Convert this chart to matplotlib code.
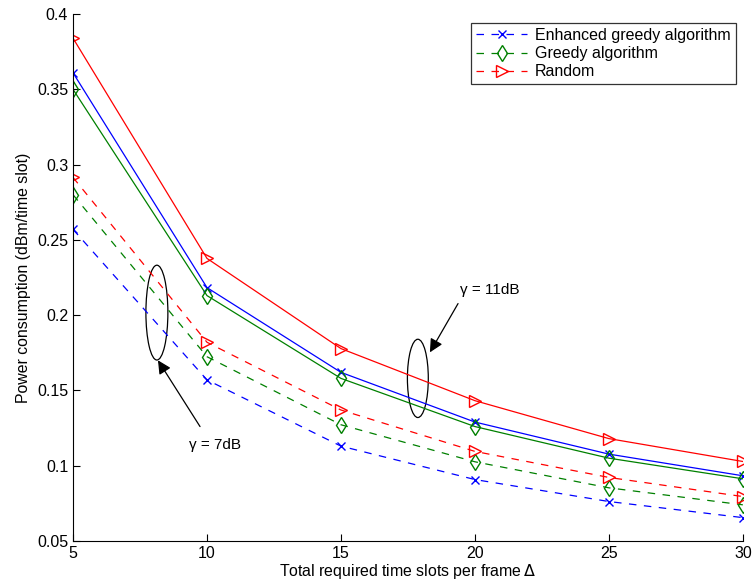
import matplotlib
matplotlib.use('Agg')
import matplotlib.pyplot as plt
from matplotlib.patches import Ellipse

plt.rcParams['font.family'] = ['Liberation Sans', 'DejaVu Sans']

# данные
slots = [5, 10, 15, 20, 25, 30]

enh_11 = [0.361, 0.2183, 0.162, 0.129, 0.1077, 0.0933]
greedy_11 = [0.350, 0.213, 0.158, 0.126, 0.105, 0.0913]
random_11 = [0.384, 0.2377, 0.1778, 0.1432, 0.118, 0.1028]

enh_7 = [0.257, 0.157, 0.113, 0.0908, 0.0762, 0.0655]
greedy_7 = [0.280, 0.1724, 0.1272, 0.1026, 0.0853, 0.0740]
random_7 = [0.2915, 0.182, 0.137, 0.1095, 0.0922, 0.0795]

labels = ['Enhanced greedy algorithm', 'Greedy algorithm', 'Random']
colors = ['#0000ff', '#008000', '#ff0000']
markers = ['x', 'd', '>']
msizes = [6, 8, 9]

fig = plt.figure(figsize=(7.56, 5.88), dpi=100)
ax = fig.add_axes([0.0966, 0.080, 0.886, 0.896])

# γ = 7dB, штрих
for y, c, m, ms, lab in zip([enh_7, greedy_7, random_7], colors, markers, msizes, labels):
    ax.plot(slots, y, linestyle=(0, (6, 6)), color=c, marker=m, markersize=ms,
            markerfacecolor='none', markeredgecolor=c, linewidth=0.9, label=lab)

# γ = 11dB, сплошные
for y, c, m, ms in zip([enh_11, greedy_11, random_11], colors, markers, msizes):
    ax.plot(slots, y, linestyle='-', color=c, marker=m, markersize=ms,
            markerfacecolor='none', markeredgecolor=c, linewidth=0.9)

ax.set_xlim(5, 30)
ax.set_ylim(0.05, 0.4)
ax.set_xticks([5, 10, 15, 20, 25, 30])
ax.set_yticks([0.05, 0.1, 0.15, 0.2, 0.25, 0.3, 0.35, 0.4])
ax.set_yticklabels(['0.05', '0.1', '0.15', '0.2', '0.25', '0.3', '0.35', '0.4'])
ax.tick_params(direction='in', labelsize=11.5, length=5)
ax.spines['top'].set_visible(False)
ax.spines['right'].set_visible(False)

ax.set_xlabel('Total required time slots per frame$\\,\\Delta$', fontsize=11.4, labelpad=1)
ax.set_ylabel('Power consumption (dBm/time slot)', fontsize=11.4, labelpad=4)

# эллипсы и стрелки
ax.add_patch(Ellipse((8.13, 0.2017), 0.82, 0.063, fill=False, edgecolor='black', linewidth=0.9))
ax.add_patch(Ellipse((17.87, 0.158), 0.78, 0.052, fill=False, edgecolor='black', linewidth=0.9))

ax.annotate('', xy=(8.17, 0.170), xytext=(9.74, 0.126),
            arrowprops=dict(arrowstyle='-|>', color='black', lw=0.9, mutation_scale=20,
                            shrinkA=0, shrinkB=0))
ax.annotate('', xy=(18.32, 0.1753), xytext=(19.37, 0.2077),
            arrowprops=dict(arrowstyle='-|>', color='black', lw=0.9, mutation_scale=20,
                            shrinkA=0, shrinkB=0))
ax.text(10.3, 0.114, '\u03b3 = 7dB', fontsize=11, ha='center', va='center')
ax.text(20.56, 0.217, '\u03b3 = 11dB', fontsize=11, ha='center', va='center')

leg = ax.legend(loc='upper right', bbox_to_anchor=(1.001, 0.998), fontsize=11.5,
                handlelength=3.2, frameon=True, fancybox=False, borderpad=0.3,
                labelspacing=0.2, handletextpad=0.5)
leg.get_frame().set_edgecolor('black')
leg.get_frame().set_linewidth(0.9)

fig.savefig('out.png', dpi=100)
